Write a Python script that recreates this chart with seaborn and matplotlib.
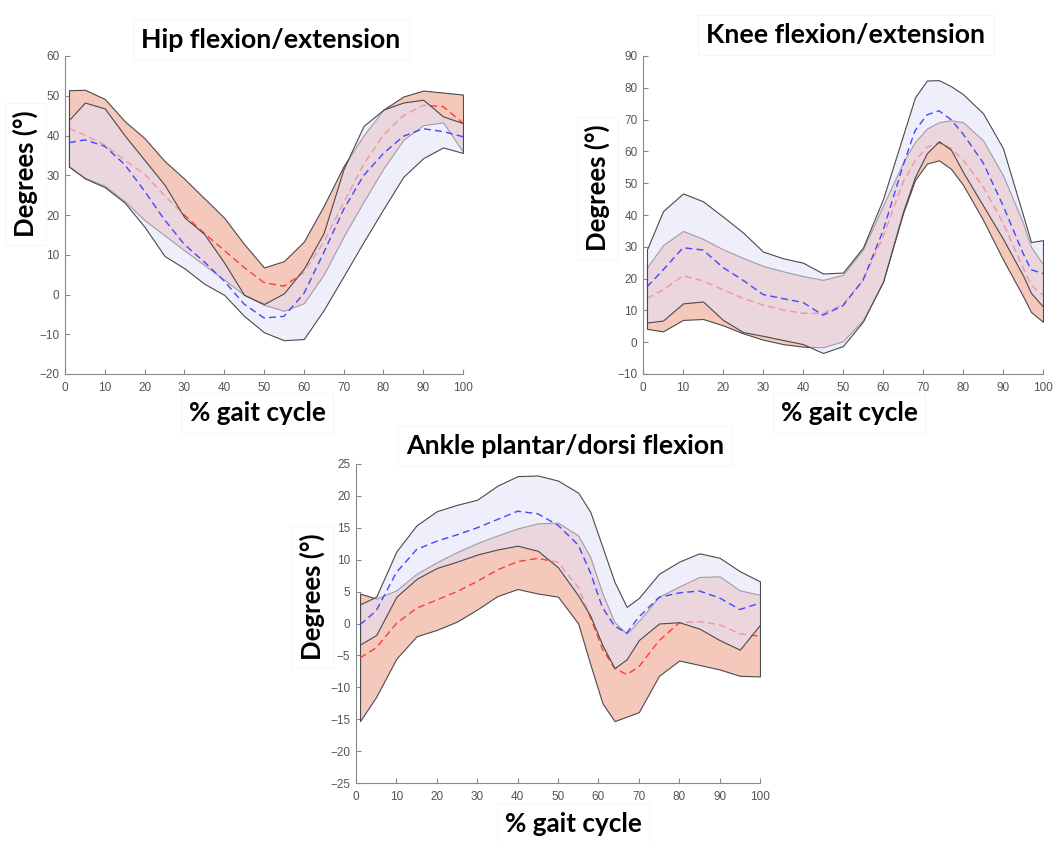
import matplotlib
matplotlib.use("Agg")
import matplotlib.pyplot as plt
import seaborn as sns

# ---------------- data: joint angles over the gait cycle ----------------
# Hip flexion/extension
hip_x = [1, 5, 10, 15, 20, 25, 30, 35, 40, 45, 50, 55, 60, 65, 70, 75, 80, 85, 90, 95, 100]
hip_red_upper = [51.4, 51.5, 49.2, 43.6, 39.3, 33.6, 29.1, 24.2, 19.3, 12.7, 6.8, 8.4, 13.3, 22.3, 32.3, 40.0, 46.5, 49.8, 51.3, 50.8, 50.3]
hip_red_lower = [32.2, 29.4, 27.3, 23.5, 18.7, 14.9, 11.1, 7.4, 3.7, -0.1, -2.6, -4.1, -2.2, 5.0, 14.6, 23.3, 31.7, 38.9, 42.6, 43.3, 35.9]
hip_red_mean = [41.8, 40.1, 37.6, 33.8, 30.3, 24.9, 20.0, 15.4, 11.1, 6.8, 3.0, 2.1, 5.5, 13.2, 23.1, 32.7, 40.1, 45.0, 47.6, 47.3, 43.1]
hip_blue_upper = [43.9, 48.3, 46.8, 40.0, 33.8, 27.6, 19.4, 15.2, 8.0, -0.1, -2.4, 0.3, 6.5, 15.5, 31.6, 42.4, 46.5, 48.3, 49.0, 44.8, 43.1]
hip_blue_lower = [32.2, 29.2, 27.0, 23.1, 17.0, 9.7, 6.6, 2.7, -0.1, -5.4, -9.5, -11.5, -11.2, -3.9, 4.6, 13.2, 21.5, 29.6, 34.3, 37.0, 35.6]
hip_blue_mean = [38.2, 38.9, 37.3, 32.7, 26.0, 18.8, 12.6, 8.2, 3.4, -2.4, -5.9, -5.5, 0.2, 10.5, 21.4, 29.9, 35.5, 39.8, 41.7, 41.0, 39.7]

# Knee flexion/extension
knee_x = [1, 5, 10, 15, 20, 25, 30, 35, 40, 45, 50, 55, 60, 65, 68, 71, 74, 77, 80, 85, 90, 95, 97, 100]
knee_red_upper = [23.5, 30.5, 35.0, 32.5, 29.2, 26.5, 24.0, 22.3, 20.8, 19.6, 21.2, 29.2, 42.9, 56.5, 63.0, 67.2, 69.2, 69.8, 69.2, 63.5, 52.5, 37.5, 30.0, 24.5]
knee_red_lower = [4.2, 3.4, 7.0, 7.3, 5.3, 2.8, 0.8, -0.6, -1.4, -1.6, 0.3, 7.0, 19.0, 40.5, 51.0, 56.2, 57.2, 54.5, 49.5, 38.5, 26.0, 14.5, 9.5, 6.4]
knee_red_mean = [13.8, 16.4, 20.9, 19.3, 16.5, 13.8, 11.7, 10.1, 9.1, 9.1, 11.8, 19.5, 33.0, 50.3, 57.0, 61.3, 62.8, 61.0, 57.4, 49.0, 37.5, 23.5, 18.0, 14.8]
knee_blue_upper = [29.2, 41.2, 46.8, 44.3, 39.5, 34.5, 28.5, 26.4, 25.0, 21.6, 21.9, 29.8, 45.0, 65.0, 77.0, 82.3, 82.4, 80.5, 78.0, 72.0, 61.0, 40.0, 31.5, 32.1]
knee_blue_lower = [6.2, 6.8, 12.2, 12.8, 7.0, 3.2, 2.0, 0.7, -0.6, -3.4, -1.2, 6.5, 19.0, 41.0, 52.0, 59.5, 63.2, 60.5, 53.5, 43.0, 32.5, 21.0, 15.5, 11.2]
knee_blue_mean = [17.4, 22.7, 29.7, 29.0, 23.5, 19.5, 15.0, 13.7, 12.5, 8.5, 11.5, 19.5, 35.0, 55.5, 66.5, 71.5, 72.8, 70.0, 65.5, 56.5, 43.0, 28.0, 22.8, 21.6]

# Ankle plantar/dorsi flexion
ankle_x = [1, 5, 10, 15, 20, 25, 30, 35, 40, 45, 50, 55, 58, 61, 64, 67, 70, 75, 80, 85, 90, 95, 100]
ankle_red_upper = [4.7, 3.9, 5.2, 7.8, 9.6, 11.2, 12.6, 13.8, 14.9, 15.7, 15.8, 13.8, 10.4, 4.7, 0.2, -1.6, 0.4, 4.2, 5.8, 7.3, 7.4, 5.2, 4.5]
ankle_red_lower = [-15.3, -11.5, -5.5, -2.0, -1.0, 0.3, 2.2, 4.3, 5.4, 4.7, 4.2, 0.0, -6.4, -12.5, -15.3, -14.6, -13.9, -8.2, -5.8, -6.5, -7.2, -8.2, -8.3]
ankle_red_mean = [-5.4, -3.8, 0.0, 2.4, 3.7, 5.0, 6.6, 8.4, 9.7, 10.2, 9.6, 5.7, 1.0, -4.0, -7.0, -8.0, -6.8, -2.7, 0.1, 0.3, -0.2, -1.6, -2.0]
ankle_blue_upper = [3.0, 4.2, 11.3, 15.4, 17.6, 18.6, 19.4, 21.6, 23.1, 23.2, 22.4, 20.5, 17.5, 12.0, 6.5, 2.6, 4.0, 7.8, 9.7, 11.0, 10.3, 8.2, 6.6]
ankle_blue_lower = [-3.3, -1.8, 4.2, 7.0, 8.7, 9.7, 10.8, 11.6, 12.2, 11.4, 8.8, 4.4, 1.2, -3.4, -7.0, -5.6, -2.6, 0.0, 0.2, -0.8, -2.6, -4.1, -0.2]
ankle_blue_mean = [-0.2, 2.0, 8.0, 11.6, 12.9, 13.9, 15.0, 16.3, 17.6, 17.2, 15.4, 12.3, 8.0, 2.5, -0.4, -1.5, 1.0, 4.1, 4.8, 5.1, 4.0, 2.2, 3.2]

titles = ["Hip flexion/extension", "Knee flexion/extension", "Ankle plantar/dorsi flexion"]
y_label = "Degrees (°)"
x_label = "% gait cycle"

# ---------------- styling ----------------
sns.set_theme(style="ticks")
plt.rcParams["font.family"] = ["Liberation Sans", "DejaVu Sans"]

W, H = 1060, 842
fig = plt.figure(figsize=(W / 100, H / 100), dpi=100)
fig.patch.set_facecolor("white")

RED_FILL = "#F5C8BC"
BLUE_FILL = (226 / 255, 226 / 255, 248 / 255, 0.55)
EDGE = "#4a4a4a"
RED_LINE = "#FF3C3C"
BLUE_LINE = "#4646FF"
LABEL_FONT = ["Lato", "DejaVu Sans"]
box = dict(facecolor="white", edgecolor="#F4F4F4", linewidth=0.6, boxstyle="square,pad=0.3")


def px_axes(left, top, right, bottom):
    return fig.add_axes([left / W, 1 - bottom / H, (right - left) / W, (bottom - top) / H])


def draw_panel(ax, x, ru, rl, rm, bu, bl, bm, ylim, ystep):
    ax.fill_between(x, rl, ru, facecolor=RED_FILL, edgecolor=EDGE, linewidth=0.8, zorder=1)
    sns.lineplot(x=x, y=rm, ax=ax, color=RED_LINE, linewidth=1.0, zorder=2,
                 estimator=None, sort=False)
    ax.lines[-1].set_dashes((5, 3))
    ax.fill_between(x, bl, bu, facecolor=BLUE_FILL, edgecolor=EDGE, linewidth=0.8, zorder=3)
    sns.lineplot(x=x, y=bm, ax=ax, color=BLUE_LINE, linewidth=1.0, zorder=4,
                 estimator=None, sort=False)
    ax.lines[-1].set_dashes((5, 3))

    ax.set_xlim(0, 100)
    ax.set_ylim(*ylim)
    ax.set_xticks(range(0, 101, 10))
    ax.set_yticks(range(ylim[0], ylim[1] + 1, ystep))
    ax.set_xlabel("")
    ax.set_ylabel("")
    for side in ("top", "right"):
        ax.spines[side].set_visible(False)
    for side in ("left", "bottom"):
        ax.spines[side].set_color("#8a8a8a")
        ax.spines[side].set_linewidth(0.8)
    ax.tick_params(direction="in", length=3.5, width=0.8, color="#8a8a8a",
                   labelcolor="#555555", labelsize=8.5)
    ax.tick_params(axis="x", pad=6)
    ax.tick_params(axis="y", pad=4)
    ax.set_facecolor("white")


ax_hip = px_axes(65, 56, 463, 374)
draw_panel(ax_hip, hip_x, hip_red_upper, hip_red_lower, hip_red_mean,
           hip_blue_upper, hip_blue_lower, hip_blue_mean, (-20, 60), 10)

ax_knee = px_axes(643, 56, 1043, 374)
draw_panel(ax_knee, knee_x, knee_red_upper, knee_red_lower, knee_red_mean,
           knee_blue_upper, knee_blue_lower, knee_blue_mean, (-10, 90), 10)

ax_ankle = px_axes(356, 464, 760, 783)
draw_panel(ax_ankle, ankle_x, ankle_red_upper, ankle_red_lower, ankle_red_mean,
           ankle_blue_upper, ankle_blue_lower, ankle_blue_mean, (-25, 25), 5)


def ftext(x, y, s, size, **kw):
    return fig.text(x / W, 1 - y / H, s, fontsize=size, fontweight="bold",
                    family=LABEL_FONT, color="black", bbox=box, **kw)


# titles (baseline positions)
ftext(271, 48, titles[0], 19.3, ha="center", va="baseline")
ftext(846, 43, titles[1], 19.3, ha="center", va="baseline")
ftext(565, 454, titles[2], 19.3, ha="center", va="baseline")

# y labels
ftext(34, 174, y_label, 18.5, ha="center", va="baseline", rotation=90, rotation_mode="anchor")
ftext(606, 188, y_label, 18.5, ha="center", va="baseline", rotation=90, rotation_mode="anchor")
ftext(321, 597, y_label, 18.5, ha="center", va="baseline", rotation=90, rotation_mode="anchor")

# x labels
ftext(257, 421, x_label, 18.8, ha="center", va="baseline")
ftext(849, 421, x_label, 18.8, ha="center", va="baseline")
ftext(573, 832, x_label, 18.8, ha="center", va="baseline")

fig.savefig("out.png", dpi=100, facecolor="white")
